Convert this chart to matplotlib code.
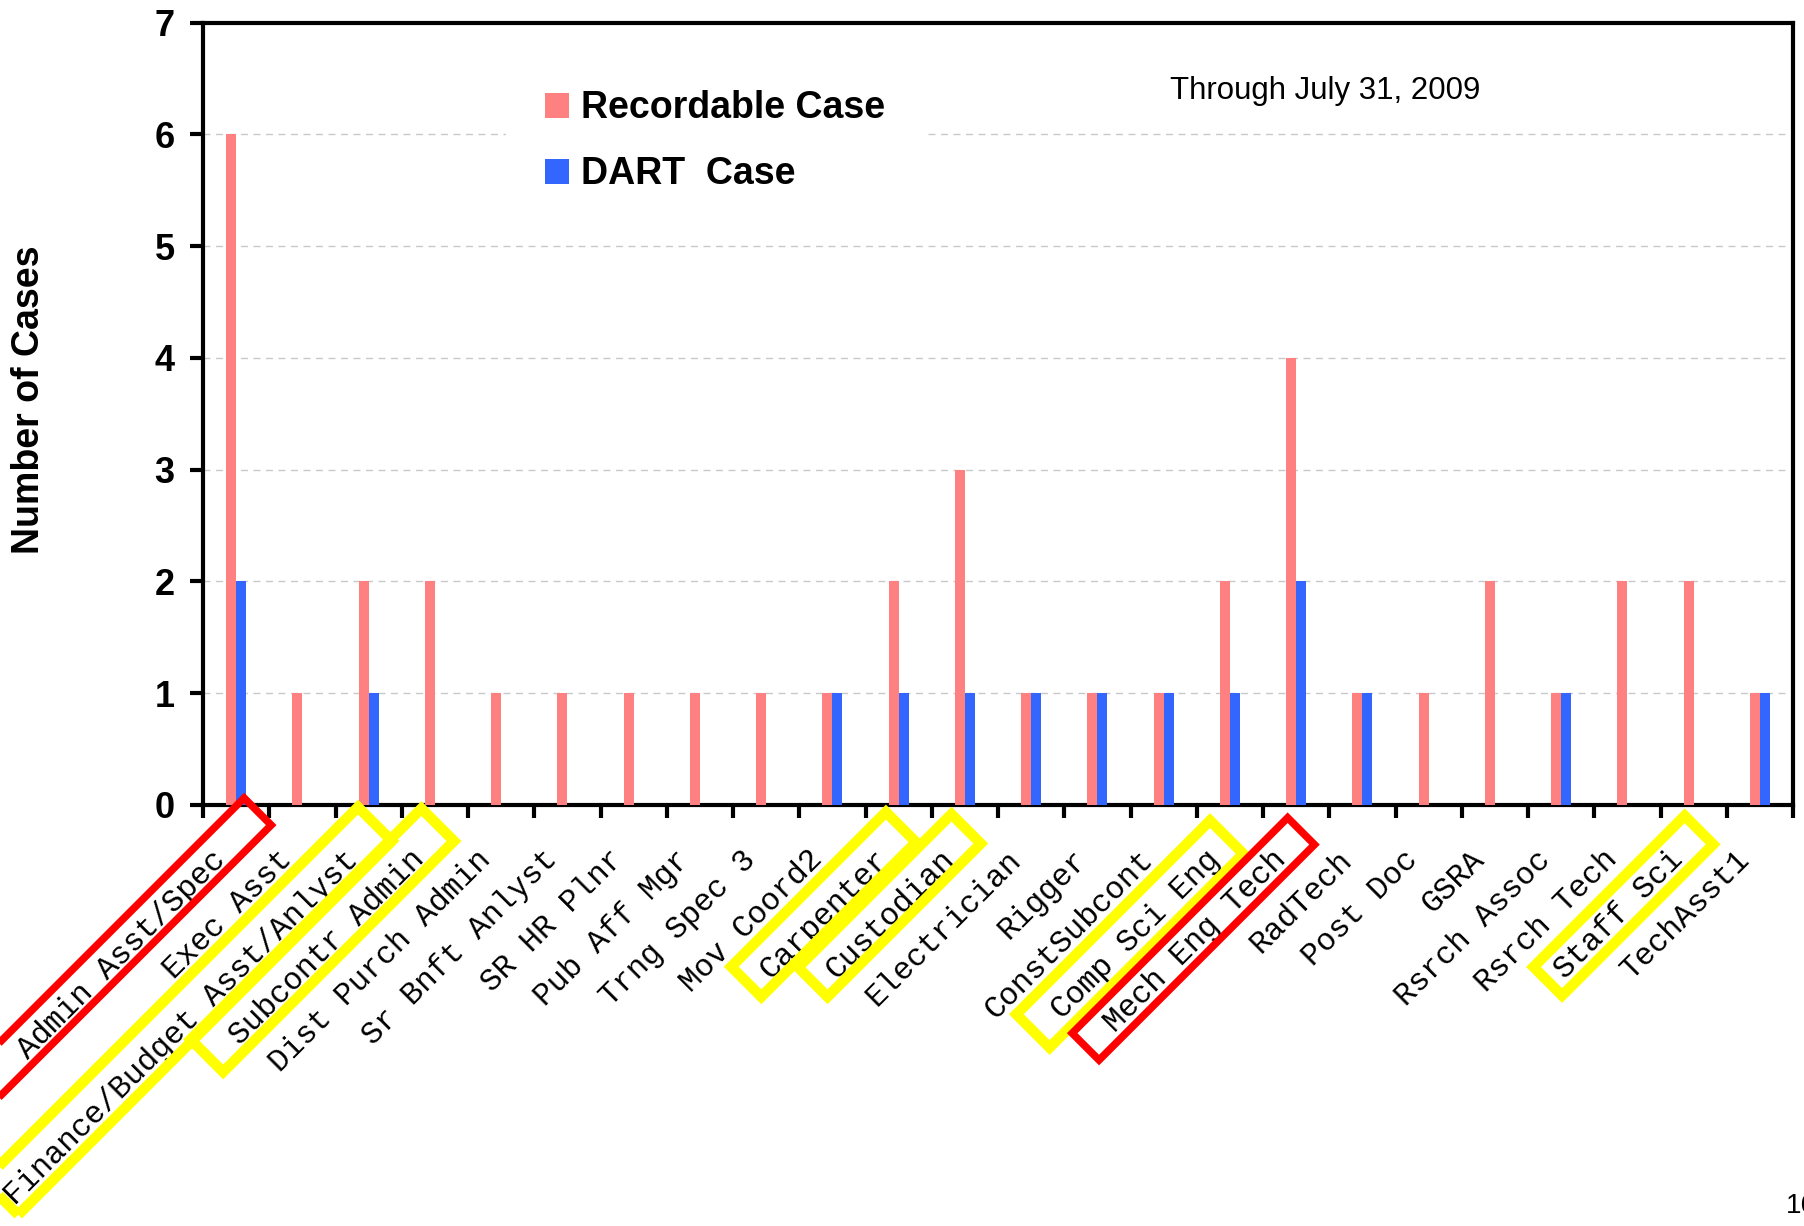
import matplotlib
matplotlib.use('Agg')
import matplotlib.pyplot as plt
import matplotlib.transforms as mtransforms
from matplotlib.patches import Rectangle
import numpy as np

categories = ["Admin Asst/Spec", "Exec Asst", "Finance/Budget Asst/Anlyst",
              "Subcontr Admin", "Dist Purch Admin", "Sr Bnft Anlyst",
              "SR HR Plnr", "Pub Aff Mgr", "Trng Spec 3", "Mov Coord2",
              "Carpenter", "Custodian", "Electrician", "Rigger",
              "ConstSubcont", "Comp Sci Eng", "Mech Eng Tech", "RadTech",
              "Post Doc", "GSRA", "Rsrch Assoc", "Rsrch Tech", "Staff Sci",
              "TechAsst1"]
recordable = [6, 1, 2, 2, 1, 1, 1, 1, 1, 1, 2, 3, 1, 1, 1, 2, 4, 1, 1, 2, 1, 2, 2, 1]
dart = [2, 0, 1, 0, 0, 0, 0, 0, 0, 1, 1, 1, 1, 1, 1, 1, 2, 1, 0, 0, 1, 0, 0, 1]
y_ticks = [0, 1, 2, 3, 4, 5, 6, 7]

# boxes drawn round some job titles: label, colour, line width,
# extra length past the start of the text, end of box, edges across (pixels)
highlights = [
    ("Admin Asst/Spec", "#FF0000", 5.4, 80, 10.6, 0.7, 39),
    ("Finance/Budget Asst/Anlyst", "#FFFF00", 7.6, 4, -9, -6, 42),
    ("Subcontr Admin", "#FFFF00", 7.6, 30, -12, -7, 39),
    ("Carpenter", "#FFFF00", 7.6, 18, -14, -4, 38.5),
    ("Custodian", "#FFFF00", 7.6, 18, -16, -3, 38.5),
    ("Comp Sci Eng", "#FFFF00", 7.6, 28, -25, -3, 44),
    ("Mech Eng Tech", "#FF0000", 5.4, 30, -15, 3, 41),
    ("Staff Sci", "#FFFF00", 7.6, 13, -14, 1.3, 41.7),
]

W, H = 1804, 1226
fig = plt.figure(figsize=(W / 100, H / 100), dpi=100)
ax = fig.add_axes([203 / W, 1 - 805 / H, (1793 - 203) / W, (805 - 22.7) / H])

x = np.arange(len(categories))
bw = 0.15
ax.bar(x - bw / 2, recordable, bw, color="#FF8080", label="Recordable Case", zorder=3)
ax.bar(x + bw / 2, dart, bw, color="#3366FF", label="DART  Case", zorder=3)

ax.set_xlim(-0.5, len(categories) - 0.5)
ax.set_ylim(0, 7)
ax.set_yticks(y_ticks)
ax.set_yticklabels([str(v) for v in y_ticks], fontsize=26, fontweight="bold",
                   family="Liberation Sans")
ax.yaxis.grid(True, color="#C8C8C8", linestyle=(0, (5, 4)), linewidth=1)
ax.set_axisbelow(True)

# job titles: right end of the text sits a little left of and below the tick
lab_dx, lab_dy = -14.8, 50.2  # px
lab_size = 22.5
ax.set_xticks(x)
ax.set_xticks(np.arange(len(categories) + 1) - 0.5, minor=True)
ax.set_xticklabels(categories, rotation=45, ha="right", va="center",
                   rotation_mode="anchor", family="Liberation Mono",
                   fontsize=lab_size)
ax.tick_params(axis="x", which="major", length=0, pad=lab_dy * 0.72)
ax.tick_params(axis="x", which="minor", length=9, width=3, direction="out")
ax.tick_params(axis="y", length=9.4, width=3, direction="out", pad=11)
shift = mtransforms.ScaledTranslation(lab_dx / 100, 0, fig.dpi_scale_trans)
for t in ax.xaxis.get_major_ticks():
    t.label1.set_transform(t.label1.get_transform() + shift)

for s in ax.spines.values():
    s.set_linewidth(3)
    s.set_color("black")

leg = ax.legend(loc="upper left", bbox_to_anchor=(506 / W, 1 - 51 / H),
                bbox_transform=fig.transFigure, borderaxespad=0,
                prop={"family": "Liberation Sans", "weight": "bold", "size": 27},
                frameon=True, fancybox=False, framealpha=1, edgecolor="none",
                facecolor="white", handlelength=0.64, handleheight=0.64,
                handletextpad=0.3, labelspacing=0.8, borderpad=1.05)
leg.set_zorder(5)

fig.text(1170 / W, 1 - 99 / H, "Through July 31, 2009", fontsize=22.5,
         family="Liberation Sans", va="baseline", ha="left")
fig.text(29 / W, 1 - 400 / H, "Number of Cases", rotation=90, fontsize=27,
         fontweight="bold", family="Liberation Sans", ha="center", va="center")
fig.text(1786 / W, 1 - 1206 / H, "16", fontsize=20, family="Liberation Sans",
         ha="left", va="center")

# highlight boxes, built in pixels along the rotated label and placed at the tick
# u runs along the text towards its end, v across it towards its foot
char_w = 0.6 * lab_size * 100 / 72
text_end = -(lab_dy - lab_dx) / np.sqrt(2)
for name, col, lw, start_pad, u_end, v0, v1 in highlights:
    i = categories.index(name)
    u0 = text_end - len(name) * char_w - start_pad
    tr = (mtransforms.Affine2D().rotate_deg(45)
          + mtransforms.ScaledTranslation(i, 0, ax.get_xaxis_transform()))
    r = Rectangle((u0, -v1), u_end - u0, v1 - v0, transform=tr, fill=False,
                  edgecolor=col, linewidth=lw, joinstyle="miter", clip_on=False,
                  zorder=6)
    ax.add_artist(r)

fig.savefig("out.png", dpi=100)
